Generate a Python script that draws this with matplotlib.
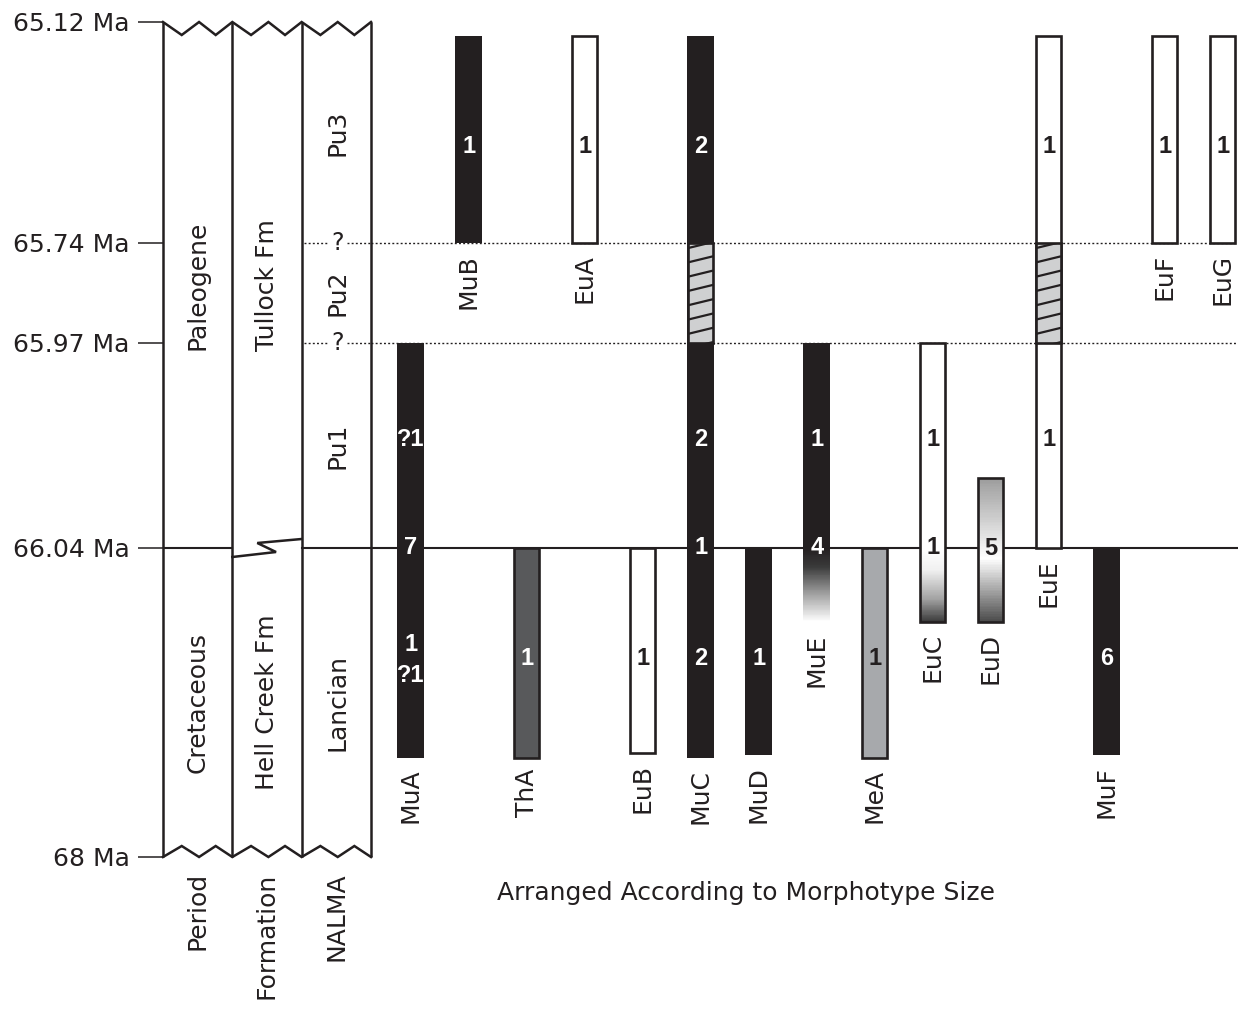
import numpy as np
import matplotlib
matplotlib.use("Agg")
import matplotlib.pyplot as plt
from matplotlib.colors import LinearSegmentedColormap

# ---------------- data ----------------
boundary_ages = [65.12, 65.74, 65.97, 66.04, 68.0]
boundary_labels = ["65.12 Ma", "65.74 Ma", "65.97 Ma", "66.04 Ma", "68 Ma"]

period_names = ["Paleogene", "Cretaceous"]
formation_names = ["Tullock Fm", "Hell Creek Fm"]
unit_top = [65.12, 66.04]
unit_base = [66.04, 68.0]
nalma_names = ["Pu3", "Pu2", "Pu1", "Lancian"]
nalma_top = [65.12, 65.74, 65.97, 66.04]
nalma_base = [65.74, 65.97, 66.04, 68.0]
column_titles = ["Period", "Formation", "NALMA"]
uncertain_ages = [65.74, 65.97]
kpg_age = 66.04

taxa = ["MuA", "MuB", "ThA", "EuA", "EuB", "MuC", "MuD", "MuE",
        "MeA", "EuC", "EuD", "EuE", "MuF", "EuF", "EuG"]
range_top = [65.97, 65.16, 66.04, 65.16, 66.04, 65.16, 66.04, 65.97,
             66.04, 65.97, 66.016, 65.16, 66.04, 65.16, 65.16]
range_base = [67.37, 65.74, 67.37, 65.74, 67.34, 67.37, 67.35, 66.51,
              67.37, 66.51, 66.51, 66.04, 67.35, 65.74, 65.74]
fill_kind = ["black", "black", "dark", "white", "white", "black", "black", "fade",
             "light", "whitefade", "grayfade", "white", "black", "white", "white"]
gap_taxa = ["MuC", "EuE"]
gap_top = 65.74
gap_base = 65.97

count_taxon = ["MuA", "MuA", "MuA", "MuA", "MuB", "ThA", "EuA", "EuB",
               "MuC", "MuC", "MuC", "MuC", "MuD", "MuE", "MuE", "MeA",
               "EuC", "EuC", "EuD", "EuE", "EuE", "MuF", "EuF", "EuG"]
count_age = [66.003, 66.04, 66.655, 66.846, 65.47, 66.74, 65.47, 66.74,
             65.47, 66.003, 66.04, 66.74, 66.74, 66.003, 66.04, 66.74,
             66.003, 66.04, 66.045, 65.47, 66.003, 66.74, 65.47, 65.47]
count_text = ["?1", "7", "1", "?1", "1", "1", "1", "1",
              "2", "2", "1", "2", "1", "1", "4", "1",
              "1", "1", "5", "1", "1", "6", "1", "1"]

xlabel_text = "Arranged According to Morphotype Size"

# ---------------- layout / style ----------------
FIG_W, FIG_H = 1238, 1015
level_px = [22, 243, 343, 548, 857]       # schematic vertical placement of boundaries
INK = "#231f20"
plt.rcParams["font.family"] = ["DejaVu Sans"]
LABEL_FS = 18
COUNT_FS = 17

a = np.array(boundary_ages, float)
p = np.array(level_px, float)
s0 = (p[1] - p[0]) / (a[1] - a[0])
s1 = (p[-1] - p[-2]) / (a[-1] - a[-2])
A = np.concatenate([[a[0] - 50], a, [a[-1] + 50]])
P = np.concatenate([[p[0] - 50 * s0], p, [p[-1] + 50 * s1]])


def fwd(x):
    return np.interp(np.asarray(x, float), A, P)


def inv(y):
    return np.interp(np.asarray(y, float), P, A)


def shift(age, dpx):
    return float(inv(fwd(age) + dpx))


fig = plt.figure(figsize=(FIG_W / 100, FIG_H / 100), dpi=100)
sx0, sx1 = 163, 371
ax_s = fig.add_axes([sx0 / FIG_W, 0, (sx1 - sx0) / FIG_W, 1])
ax_t = fig.add_axes([sx1 / FIG_W, 0, (FIG_W - sx1) / FIG_W, 1])
for ax in (ax_s, ax_t):
    ax.set_yscale("function", functions=(fwd, inv))
    ax.set_ylim(float(inv(FIG_H)), float(inv(0)))
    for sp in ax.spines.values():
        sp.set_visible(False)
    ax.set_xticks([])
    ax.patch.set_alpha(0)

ax_s.set_xlim(0, 3)
first_px, unit = 410.7, 58.0
ax_t.set_xlim((sx1 - first_px) / unit, (FIG_W - first_px) / unit)
ax_t.set_yticks([])

# y ticks (ages)
ax_s.set_yticks(boundary_ages)
ax_s.set_yticklabels(boundary_labels)
ax_s.yaxis.set_minor_locator(matplotlib.ticker.NullLocator())
ax_s.tick_params(axis="y", length=18, width=1.1, pad=6, labelsize=LABEL_FS,
                 color=INK, labelcolor=INK, direction="out")

LW_COL = 1.8
# column frame: vertical lines
top_age, bot_age = boundary_ages[0], boundary_ages[-1]
for c in range(4):
    ax_s.plot([c, c], [top_age, bot_age], color=INK, lw=LW_COL,
              solid_capstyle="butt", clip_on=False)
# zigzag top and bottom
zx, zt, zb = [], [], []
for c in range(3):
    for f, k in zip([0, 0.27, 0.52, 0.76], [0, 1, 0, 1]):
        zx.append(c + f)
        zt.append(shift(top_age, 13 * k))
        zb.append(shift(bot_age, -11 * k))
zx.append(3)
zt.append(top_age)
zb.append(bot_age)
ax_s.plot(zx, zt, color=INK, lw=LW_COL, clip_on=False, solid_joinstyle="miter")
ax_s.plot(zx, zb, color=INK, lw=LW_COL, clip_on=False, solid_joinstyle="miter")

# K/Pg boundary line within columns
ax_s.plot([0, 1], [kpg_age, kpg_age], color=INK, lw=1.5)
ax_s.plot([1, 1.63, 1.36, 2],
          [shift(kpg_age, 9), shift(kpg_age, 4), shift(kpg_age, -5), shift(kpg_age, -9)],
          color=INK, lw=1.8, solid_joinstyle="miter")
ax_s.plot([2, 3], [kpg_age, kpg_age], color=INK, lw=1.5)
ax_t.axhline(kpg_age, color=INK, lw=1.5, zorder=1)

# uncertain boundaries (dotted) with question marks
for ua in uncertain_ages:
    ax_s.plot([2.04, 2.38], [ua, ua], color=INK, lw=1.0, ls=(0, (1.4, 1.6)))
    ax_s.plot([2.66, 3.0], [ua, ua], color=INK, lw=1.0, ls=(0, (1.4, 1.6)))
    ax_s.text(2.52, ua, "?", ha="center", va="center", fontsize=LABEL_FS - 1, color=INK)
    ax_t.axhline(ua, color=INK, lw=1.0, ls=(0, (1.4, 1.6)), zorder=1)


def mid_age(t, b):
    return float(inv((fwd(t) + fwd(b)) / 2))


for name, t, b in zip(period_names, unit_top, unit_base):
    ax_s.text(0.5, mid_age(t, b), name, rotation=90, ha="center", va="center",
              fontsize=LABEL_FS, color=INK)
for name, t, b in zip(formation_names, unit_top, unit_base):
    ax_s.text(1.5, mid_age(t, b), name, rotation=90, ha="center", va="center",
              fontsize=LABEL_FS, color=INK)
for name, t, b in zip(nalma_names, nalma_top, nalma_base):
    ax_s.text(2.52, mid_age(t, b), name, rotation=90, ha="center", va="center",
              fontsize=LABEL_FS, color=INK)
for c, name in enumerate(column_titles):
    ax_s.annotate(name, xy=(c + 0.5, bot_age), xytext=(0, -11),
                  textcoords="offset points", rotation=90, ha="center", va="top",
                  fontsize=LABEL_FS, color=INK, annotation_clip=False)

# ---------------- taxon ranges ----------------
W = 0.47
LW_BAR = 1.9
lw_units = LW_BAR / 72 * 100 / unit
WO = W - lw_units
fills = {"black": INK, "dark": "#58595b", "light": "#a7a9ac", "white": "white"}

fade_maps = {
    "fade": LinearSegmentedColormap.from_list(
        "fade", [(0, INK), (0.25, "#3a3a3a"), (0.6, "#9a9a9a"), (1, "#ffffff")]),
    "whitefade": LinearSegmentedColormap.from_list(
        "wfade", [(0, "#ffffff"), (0.3, "#f0f0f0"), (0.7, "#a0a0a0"), (1, "#3a3a3a")]),
    "grayfade": LinearSegmentedColormap.from_list(
        "gfade", [(0, "#9d9d9d"), (0.56, "#ffffff"), (1, "#4d4d4d")]),
}


def gradient(x, t, b, cmap, width):
    ypx = np.linspace(fwd(t), fwd(b), 90)
    ye = inv(ypx)
    xe = [x - width / 2, x + width / 2]
    vals = np.linspace(0, 1, len(ye) - 1)[:, None]
    ax_t.pcolormesh(xe, ye, vals, cmap=cmap, vmin=0, vmax=1, shading="flat",
                    edgecolors="none", antialiased=False, zorder=2)


for i, (name, t, b, kind) in enumerate(zip(taxa, range_top, range_base, fill_kind)):
    if kind == "black":
        ax_t.bar(i, b - t, bottom=t, width=W, color=INK, linewidth=0, zorder=2)
    elif kind in ("dark", "light", "white"):
        ax_t.bar(i, b - t, bottom=t, width=WO, color=fills[kind],
                 edgecolor=INK, linewidth=LW_BAR, zorder=2)
    elif kind == "fade":
        ax_t.bar(i, kpg_age - t, bottom=t, width=W, color=INK, linewidth=0, zorder=2)
        gradient(i, kpg_age, b, fade_maps[kind], W)
    elif kind == "whitefade":
        ax_t.bar(i, kpg_age - t, bottom=t, width=WO, color="white", linewidth=0, zorder=2)
        gradient(i, kpg_age, b, fade_maps[kind], WO)
        ax_t.bar(i, b - t, bottom=t, width=WO, fill=False, edgecolor=INK,
                 linewidth=LW_BAR, zorder=3)
    elif kind == "grayfade":
        gradient(i, t, b, fade_maps[kind], WO)
        ax_t.bar(i, b - t, bottom=t, width=WO, fill=False, edgecolor=INK,
                 linewidth=LW_BAR, zorder=3)
    ax_t.annotate(name, xy=(i, b), xytext=(0, -8), textcoords="offset points",
                  rotation=90, ha="center", va="top", fontsize=LABEL_FS, color=INK)

# hatched uncertain interval
for name in gap_taxa:
    i = taxa.index(name)
    rect = ax_t.bar(i, gap_base - gap_top, bottom=gap_top, width=WO, color="#cfd0d1",
                    edgecolor=INK, linewidth=LW_BAR, zorder=4).patches[0]
    T, B = float(fwd(gap_top)), float(fwd(gap_base))
    yl = T + 5
    while yl < B + 8:
        ln, = ax_t.plot([i - WO / 2, i + WO / 2], [float(inv(yl)), float(inv(yl - 6))],
                        color=INK, lw=1.6, zorder=4.5, solid_capstyle="butt")
        ln.set_clip_path(rect)
        yl += 14.3

# specimen counts
for tx, age, txt in zip(count_taxon, count_age, count_text):
    i = taxa.index(tx)
    kind = fill_kind[i]
    dark = kind in ("black", "dark") or (kind == "fade" and age <= kpg_age + 0.01)
    ax_t.text(i, age, txt, ha="center", va="center", fontsize=COUNT_FS,
              fontweight="bold", family=["Liberation Sans Narrow", "Liberation Sans", "DejaVu Sans"],
              color="white" if dark else INK, zorder=6)

fig.text(746 / FIG_W, 1 - 893 / FIG_H, xlabel_text, ha="center", va="center",
         fontsize=LABEL_FS, color=INK)

fig.savefig("out.png", dpi=100, facecolor="white")
